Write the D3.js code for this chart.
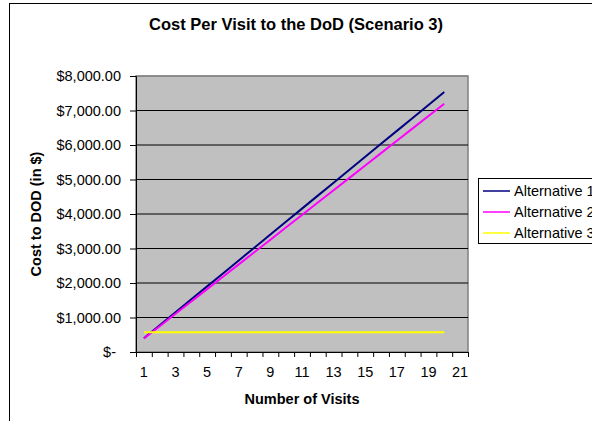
<!DOCTYPE html>
<html>
<head>
<meta charset="utf-8">
<script src="https://cdn.jsdelivr.net/npm/d3@7"></script>
<style>
  html, body { margin: 0; padding: 0; background: #fff; }
  svg { display: block; font-family: "Liberation Sans", Arial, sans-serif; }
</style>
</head>
<body>
<svg id="chart" width="592" height="421"></svg>
<script>
// Number of visits (category axis runs 1..21, data for 1..20)
const categories = d3.range(1, 22);
const visits = [1,2,3,4,5,6,7,8,9,10,11,12,13,14,15,16,17,18,19,20];

// Cost to DoD per alternative, in dollars
const alternative1 = [400, 776, 1151, 1527, 1902, 2278, 2654, 3029, 3405, 3780,
                      4156, 4532, 4907, 5283, 5658, 6034, 6410, 6785, 7161, 7536];
const alternative2 = [390, 748, 1107, 1465, 1823, 2182, 2540, 2898, 3256, 3615,
                      3973, 4331, 4690, 5048, 5406, 5765, 6123, 6481, 6839, 7197];
const alternative3 = [575, 575, 575, 575, 575, 575, 575, 575, 575, 575,
                      575, 575, 575, 575, 575, 575, 575, 575, 575, 575];

const seriesNames = ["Alternative 1", "Alternative 2", "Alternative 3"];
const seriesColors = ["#000080", "#FF00FF", "#FFFF00"];
const yTicks = [0, 1000, 2000, 3000, 4000, 5000, 6000, 7000, 8000];
const xTickLabels = [1, 3, 5, 7, 9, 11, 13, 15, 17, 19, 21];

const series = [alternative1, alternative2, alternative3];

const svg = d3.select("#chart");

// Chart frame (extends past the right and bottom edges)
svg.append("rect")
  .attr("x", 9.5).attr("y", 3.5)
  .attr("width", 700).attr("height", 500)
  .attr("fill", "#fff").attr("stroke", "#000").attr("stroke-width", 1);

const plot = { left: 136, right: 468, top: 76, bottom: 352 };

const x = d3.scaleBand().domain(categories).range([plot.left, plot.right]).padding(0);
const xEdge = d3.scaleLinear().domain([0, categories.length]).range([plot.left, plot.right]);
const y = d3.scaleLinear().domain([0, 8000]).range([plot.bottom, plot.top]);

// Plot area
svg.append("rect")
  .attr("x", plot.left).attr("y", plot.top)
  .attr("width", plot.right - plot.left).attr("height", plot.bottom - plot.top)
  .attr("fill", "#C0C0C0").attr("stroke", "#808080").attr("stroke-width", 1.5);

// Gridlines
svg.append("g").selectAll("line")
  .data(yTicks.filter(d => d > 0))
  .join("line")
  .attr("x1", plot.left).attr("x2", plot.right)
  .attr("y1", d => y(d)).attr("y2", d => y(d))
  .attr("stroke", d => d === 8000 ? "#808080" : "#000")
  .attr("stroke-width", 1);

// Y axis
const fmt = d3.format(",.2f");
const yAxis = svg.append("g")
  .attr("transform", `translate(${plot.left},0)`)
  .call(d3.axisLeft(y).tickValues(yTicks).tickSize(6).tickPadding(9)
    .tickFormat(d => d === 0 ? "$-" : "$" + fmt(d)));
yAxis.select(".domain").attr("stroke", "#000");
yAxis.selectAll(".tick line").attr("stroke", "#000");
yAxis.selectAll(".tick text")
  .attr("fill", "#000").attr("font-size", 14.5)
  .attr("dx", d => d === 0 ? -5 : 0);

// X axis: tick marks at category boundaries
const xAxisTicks = svg.append("g")
  .attr("transform", `translate(0,${plot.bottom})`)
  .call(d3.axisBottom(xEdge).tickValues(d3.range(0, categories.length + 1)).tickSize(5).tickFormat(""));
xAxisTicks.select(".domain").attr("stroke", "#000");
xAxisTicks.selectAll(".tick line").attr("stroke", "#000");

// X axis labels centred in categories
const xAxisLabels = svg.append("g")
  .attr("transform", `translate(0,${plot.bottom})`)
  .call(d3.axisBottom(x).tickValues(xTickLabels).tickSize(0).tickPadding(15));
xAxisLabels.select(".domain").remove();
xAxisLabels.selectAll(".tick text").attr("fill", "#000").attr("font-size", 14.5);

// Lines
const line = d3.line()
  .x((d, i) => x(visits[i]) + x.bandwidth() / 2)
  .y(d => y(d));

svg.append("g").selectAll("path")
  .data(series)
  .join("path")
  .attr("d", d => line(d))
  .attr("fill", "none")
  .attr("stroke", (d, i) => seriesColors[i])
  .attr("stroke-width", 2);

// Title
svg.append("text")
  .attr("x", 296).attr("y", 30)
  .attr("text-anchor", "middle")
  .attr("font-size", 16.5).attr("font-weight", "bold")
  .text("Cost Per Visit to the DoD (Scenario 3)");

// Axis titles
svg.append("text")
  .attr("transform", `translate(41,${(plot.top + plot.bottom) / 2}) rotate(-90)`)
  .attr("text-anchor", "middle")
  .attr("font-size", 14.5).attr("font-weight", "bold")
  .text("Cost to DOD (in $)");

svg.append("text")
  .attr("x", (plot.left + plot.right) / 2).attr("y", 404)
  .attr("text-anchor", "middle")
  .attr("font-size", 14.5).attr("font-weight", "bold")
  .text("Number of Visits");

// Legend (box runs past the right edge of the frame)
const legend = svg.append("g");
legend.append("rect")
  .attr("x", 478.5).attr("y", 178.5)
  .attr("width", 140).attr("height", 65)
  .attr("fill", "#fff").attr("stroke", "#000").attr("stroke-width", 1);

const items = legend.selectAll("g.item")
  .data(seriesNames)
  .join("g")
  .attr("class", "item")
  .attr("transform", (d, i) => `translate(0,${191 + i * 21})`);
items.append("line")
  .attr("x1", 483).attr("x2", 510)
  .attr("y1", 0).attr("y2", 0)
  .attr("stroke", (d, i) => seriesColors[i]).attr("stroke-width", 1.5);
items.append("text")
  .attr("x", 514).attr("y", 5)
  .attr("font-size", 14.5)
  .text(d => d);
</script>
</body>
</html>
